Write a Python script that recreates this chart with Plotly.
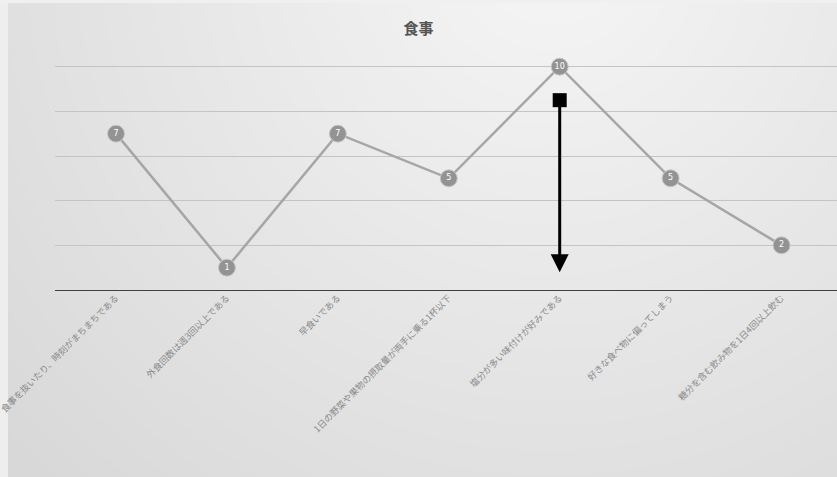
import zlib, struct, base64
import numpy as np
import plotly.graph_objects as go

W, H = 837, 477
ML, MR, MT, MB = 55, 0, 22, 187

categories = [
    "食事を抜いたり、時刻がまちまちである",
    "外食回数は週3回以上である",
    "早食いである",
    "1日の野菜や果物の摂取量が両手に乗る1杯以下",
    "塩分が多い味付けが好みである",
    "好きな食べ物に偏ってしまう",
    "糖分を含む飲み物を1日4回以上飲む",
]
values = [7, 1, 7, 5, 10, 5, 2]
arrow_category = "塩分が多い味付けが好みである"
arrow_start = 8.5
arrow_end = 0.8


def png_uri(arr):
    h, w, _ = arr.shape
    raw = b"".join(b"\x00" + arr[i].tobytes() for i in range(h))

    def chunk(t, d):
        c = struct.pack(">I", len(d)) + t + d
        return c + struct.pack(">I", zlib.crc32(t + d) & 0xFFFFFFFF)

    png = b"\x89PNG\r\n\x1a\n" + chunk(b"IHDR", struct.pack(">IIBBBBB", w, h, 8, 2, 0, 0, 0))
    png += chunk(b"IDAT", zlib.compress(raw, 9)) + chunk(b"IEND", b"")
    return "data:image/png;base64," + base64.b64encode(png).decode()


yy, xx = np.mgrid[0:H, 0:W].astype(float)
d = np.sqrt((xx - 550) ** 2 + (yy + 50) ** 2)
v = 246 - 32 * (d / 800)
v = np.clip(v, 205, 248)
v[:, :8] = 238
v[:3, :] = 240
img = np.repeat(v[:, :, None], 3, axis=2).astype(np.uint8)
uri = png_uri(img)

pw = W - ML - MR
ph = H - MT - MB

fig = go.Figure()
fig.add_trace(go.Scatter(
    x=categories, y=values, mode="lines+markers+text",
    line=dict(color="#a6a6a6", width=2.5),
    marker=dict(size=17, color="#939393", line=dict(color="#c8c8c8", width=1)),
    text=[str(v_) for v_ in values], textposition="middle center",
    textfont=dict(color="white", size=8, family="DejaVu Sans"),
    hoverinfo="skip", showlegend=False,
))
fig.add_trace(go.Scatter(
    x=[arrow_category], y=[arrow_start], mode="markers",
    marker=dict(symbol="square", size=14, color="black"),
    hoverinfo="skip", showlegend=False,
))
fig.add_annotation(
    x=arrow_category, y=arrow_end, ax=arrow_category, ay=arrow_start,
    xref="x", yref="y", axref="x", ayref="y",
    showarrow=True, arrowhead=2, arrowsize=1.2, arrowwidth=3, arrowcolor="black", text="",
)
fig.add_layout_image(dict(
    source=uri, xref="paper", yref="paper",
    x=-ML / pw, y=1 + MT / ph, sizex=W / pw, sizey=H / ph,
    xanchor="left", yanchor="top", sizing="stretch", layer="below",
))
fig.update_layout(
    width=W, height=H,
    margin=dict(l=ML, r=MR, t=MT, b=MB),
    paper_bgcolor="#e4e4e4", plot_bgcolor="rgba(0,0,0,0)",
    title=dict(text="<b>食事</b>", x=0.5, xanchor="center", y=0.94, yanchor="middle",
               font=dict(size=15, color="#555555", family="Noto Sans CJK JP")),
    font=dict(family="Noto Sans CJK JP"),
    xaxis=dict(range=[-0.55, 6.5], tickangle=-45, showgrid=False, zeroline=False,
               tickfont=dict(size=9, color="#8a8a8a"), automargin=False,
               showline=False, ticks=""),
    yaxis=dict(range=[0, 12], dtick=2, showticklabels=False, showgrid=True,
               gridcolor="#c4c4c4", gridwidth=1, zeroline=True, zerolinecolor="#404040",
               zerolinewidth=1.2, automargin=False),
)
fig.write_html("out.html")
